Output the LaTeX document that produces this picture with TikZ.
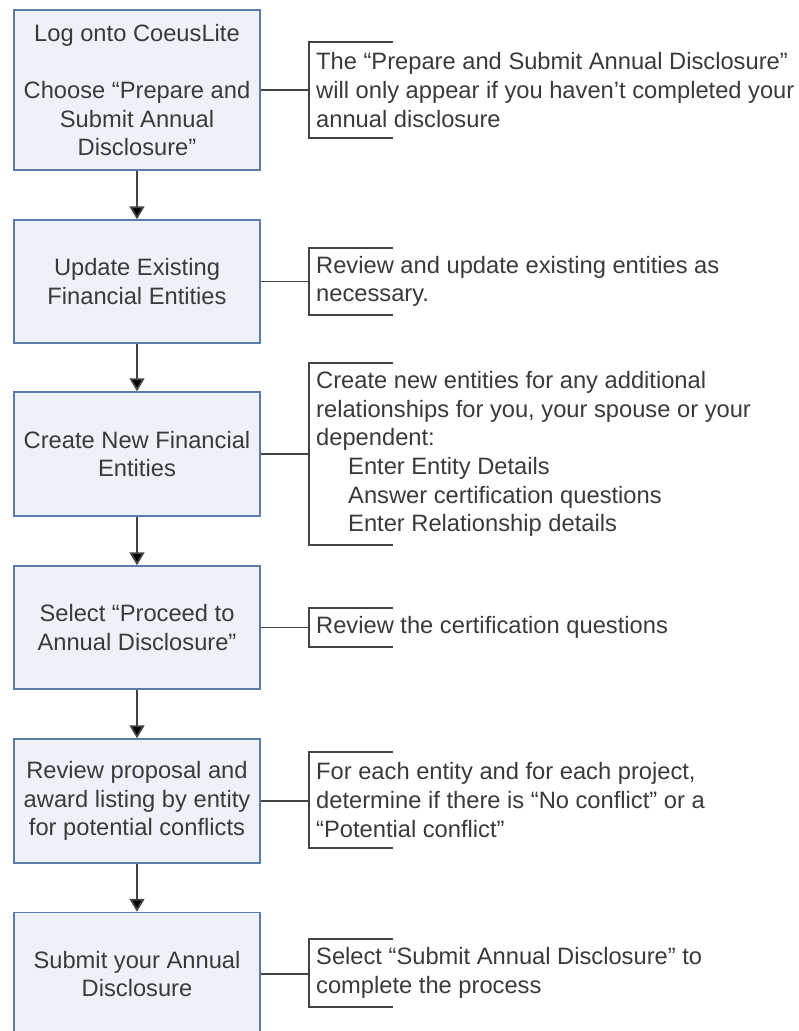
\documentclass[tikz,border=0pt]{standalone}
\usepackage{fontspec}
\setmainfont{Liberation Sans}
\usetikzlibrary{arrows.meta}
\definecolor{boxfill}{HTML}{EEF2F8}
\definecolor{boxline}{HTML}{5B7BA8}
\definecolor{ink}{HTML}{3A3A3A}
\definecolor{wire}{HTML}{444444}
\begin{document}
\begin{tikzpicture}[x=1pt,y=-1pt,
  txt/.style={font=\fontsize{23.7pt}{28.7pt}\selectfont, text=ink},
  stepbox/.style={txt, draw=boxline, line width=1.5pt, fill=boxfill, minimum width=246pt, align=center, inner sep=0pt},
  note/.style={txt, anchor=west, align=left, inner xsep=7pt, inner ysep=0pt},
  bracket/.style={draw=wire, line width=1.8pt},
  link/.style={draw=wire, line width=1.6pt},
  flow/.style={draw=wire, line width=1.8pt, -{Triangle[width=15pt,length=13pt,fill=black]}}
]
\useasboundingbox (0,0) rectangle (799,1031);
\begin{scope}
\clip (0,0) rectangle (799,1031);
\fill[white] (0,0) rectangle (799,1031);

\node[stepbox, minimum height=160pt] (b1) at (137,90) {Log onto CoeusLite\\[28.7pt]Choose “Prepare and\\Submit Annual\\Disclosure”};
\node[stepbox, minimum height=123pt] (b2) at (137,281.5) {Update Existing\\Financial Entities};
\node[stepbox, minimum height=124pt] (b3) at (137,454) {Create New Financial\\Entities};
\node[stepbox, minimum height=123pt] (b4) at (137,627.5) {Select “Proceed to\\Annual Disclosure”};
\node[stepbox, minimum height=124pt] (b5) at (137,801) {Review proposal and\\award listing by entity\\for potential conflicts};
\node[stepbox, minimum height=123pt] (b6) at (137,974) {Submit your Annual\\Disclosure};

\node[note, minimum height=96pt] (n1) at (309,90) {The “Prepare and Submit Annual Disclosure”\\will only appear if you haven’t completed your\\annual disclosure};
\node[note, minimum height=67pt] (n2) at (309,281.5) {Review and update existing entities as\\necessary.};
\node[note, minimum height=182pt] (n3) at (309,454) {Create new entities for any additional\\relationships for you, your spouse or your\\dependent:\\\hspace*{32pt}Enter Entity Details\\\hspace*{32pt}Answer certification questions\\\hspace*{32pt}Enter Relationship details};
\node[note, minimum height=39pt] (n4) at (309,627.5) {Review the certification questions};
\node[note, minimum height=96pt] (n5) at (309,800) {For each entity and for each project,\\determine if there is “No conflict” or a\\“Potential conflict”};
\node[note, minimum height=68pt] (n6) at (309,973) {Select “Submit Annual Disclosure” to\\complete the process};

\foreach \n in {n1,n2,n3,n4,n5,n6}{
  \draw[bracket] ([xshift=84pt]\n.north west) -- (\n.north west) -- (\n.south west) -- ([xshift=84pt]\n.south west);
}
\foreach \b/\n in {b1/n1,b2/n2,b3/n3,b4/n4,b5/n5,b6/n6}{
  \draw[link] (\b.east) -- (\b.east -| \n.west);
}
\draw[flow] (b1.south) -- (b2.north);
\draw[flow] (b2.south) -- (b3.north);
\draw[flow] (b3.south) -- (b4.north);
\draw[flow] (b4.south) -- (b5.north);
\draw[flow] (b5.south) -- (b6.north);
\end{scope}
\end{tikzpicture}
\end{document}
